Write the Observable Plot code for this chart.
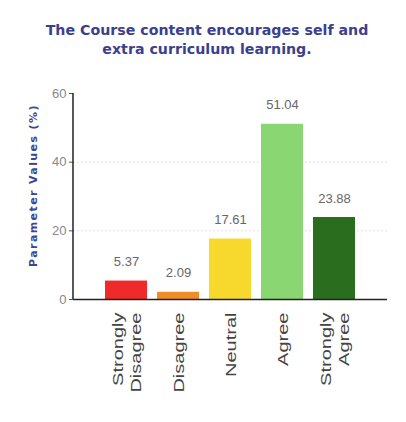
<!DOCTYPE html>
<html><head><meta charset="utf-8">
<script src="https://cdn.jsdelivr.net/npm/d3@7"></script>
<script src="https://cdn.jsdelivr.net/npm/@observablehq/plot@0.6"></script>
<style>
body{margin:0;background:#fff;}
#title{width:406px;height:75px;box-sizing:border-box;padding-top:21px;padding-left:8px;text-align:center;font-family:"DejaVu Sans",sans-serif;font-weight:bold;font-size:14.2px;line-height:19px;color:#3b3f8e;}
</style></head><body>
<div id="title">The Course content encourages self and<br>extra curriculum learning.</div>
<div id="chart"></div>
<script>
const categories = ["Strongly\nDisagree", "Disagree", "Neutral", "Agree", "Strongly\nAgree"];
const values = [5.37, 2.09, 17.61, 51.04, 23.88];
const colors = ["#ee2a2a", "#f08c2a", "#f7d92e", "#8ad672", "#2b6d1f"];
const yTicks = [0, 20, 40, 60];
const data = categories.map((c, i) => ({cat: c, v: values[i], col: colors[i]}));

const plot = Plot.plot({
  width: 406, height: 347,
  marginLeft: 73, marginRight: 19, marginTop: 18, marginBottom: 123,
  style: {fontFamily: "Liberation Sans, Arial, sans-serif", fontSize: "13px", color: "#555"},
  x: {domain: categories, paddingInner: 0.2, paddingOuter: 0.6, label: null},
  y: {domain: [0, 60], ticks: yTicks, label: null},
  marks: [
    Plot.gridY(yTicks.filter(d => d > 0 && d < 60), {stroke: "#ccc", strokeOpacity: 0.6, strokeDasharray: "2,2"}),
    Plot.barY(data, {x: "cat", y: "v", fill: "col"}),
    Plot.text(data, {x: "cat", y: "v", text: d => d.v.toFixed(2), dy: -19, fill: "#666", fontSize: 13}),
    Plot.axisY({ticks: yTicks, tickSize: 4, tickPadding: 3, fill: "#888", fontSize: 13, label: null}),
    Plot.axisX({tickRotate: -90, tickSize: 0, tickPadding: 13, fill: "#444", fontSize: 14.5, label: null, lineHeight: 1.2, className: "xax"}),
    Plot.ruleY([0], {stroke: "#222", strokeWidth: 1.5}),
    Plot.text(["Parameter Values (%)"], {frameAnchor: "left", textAnchor: "middle", dx: -40, dy: -11, rotate: -90, fill: "#3b4592", fontWeight: "bold", fontSize: 11, fontFamily: "DejaVu Sans, sans-serif", className: "ylab"})
  ]
});
document.getElementById("chart").appendChild(plot);
const svg = d3.select(plot);
svg.selectAll(".ylab text").style("letter-spacing", "1.4px");
svg.selectAll(".xax text").attr("transform", function() { return this.getAttribute("transform") + " scale(1.38,1)"; });
// left axis line
svg.append("line").attr("x1", 73).attr("x2", 73).attr("y1", 18).attr("y2", 224).attr("stroke", "#222").attr("stroke-width", 1.5);
</script>
</body></html>
